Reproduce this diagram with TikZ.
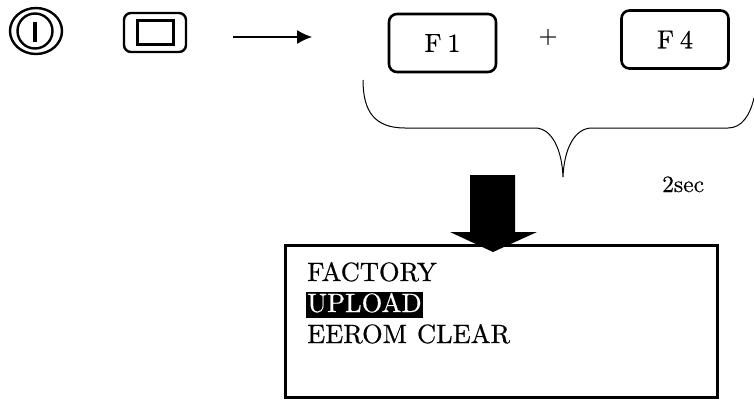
\documentclass[tikz,border=0pt]{standalone}
\usepackage{fontspec}
\setmainfont{lmroman10-regular.otf}[FakeBold=0.5,AutoFakeBold=0.5]
\usetikzlibrary{arrows.meta,shapes.geometric}
\begin{document}
\begin{tikzpicture}[x=1pt,y=-1pt,
  keybox/.style={draw,line width=2.6pt,rounded corners=8pt,minimum width=107pt,minimum height=58pt,inner sep=0pt,font=\fontsize{26}{30}\selectfont},
  icon/.style={line width=2.4pt},
  menutext/.style={anchor=base west,inner sep=0pt,font=\fontsize{26.5}{31}\selectfont}]
\useasboundingbox (0,0) rectangle (754,399);
% power icon
\node[icon,draw,ellipse,minimum width=52pt,minimum height=46pt,inner sep=0pt] (pwr) at (36,31) {};
\node[icon,draw,circle,minimum size=35pt,inner sep=0pt] (pwrin) at (35,31) {};
\fill (33,22) rectangle (37,42);
% rect icon
\node[icon,draw,rounded corners=7pt,minimum width=62pt,minimum height=39pt,inner sep=0pt] (dsp) at (155,32.5) {};
\node[icon,draw,minimum width=36pt,minimum height=24pt,inner sep=0pt] (dspin) at (155.5,32.5) {};
% arrow
\coordinate (a1) at (233,37);
\coordinate (a2) at (312,37);
\draw[line width=1.2pt,-{Latex[length=15pt,width=14pt]}] (a1) -- (a2);
% keys
\node[keybox] (f1) at (442.5,43) {F\hspace{6pt}1\hspace{16pt}};
\node[font=\fontsize{24}{28}\selectfont,inner sep=0pt] (plus) at (548,37) {+};
\node[keybox] (f4) at (675,39.5) {F\hspace{6pt}4\hspace{16pt}};
% brace
\draw[line width=1pt] (363,80) .. controls (363,112) and (375,128) .. (405,128)
  -- (535,128) .. controls (552,128) and (562,150) .. (563,177)
  .. controls (564,150) and (574,128) .. (592,128)
  -- (728,128) .. controls (742,128) and (750,115) .. (754,98);
\node[font=\fontsize{23.5}{28}\selectfont,anchor=base west,inner sep=0pt] (sec) at (662,192) {2sec};
% thick arrow
\fill (470,175) -- (515,175) -- (515,232) -- (537,232) -- (493,252) -- (450,232) -- (470,232) -- cycle;
% menu box
\node[draw,line width=3pt,minimum width=432pt,minimum height=152pt,inner sep=0pt] (menu) at (501,321) {};
\node[menutext] (m1) at (307,281) {FACTORY};
\node[menutext,fill=black,text=white,inner xsep=1pt,text height=20pt,text depth=6pt] (m2) at (306,312) {UPLOAD};
\node[menutext] (m3) at (307,343) {EEROM\hspace{10pt}CLEAR};
\end{tikzpicture}
\end{document}
